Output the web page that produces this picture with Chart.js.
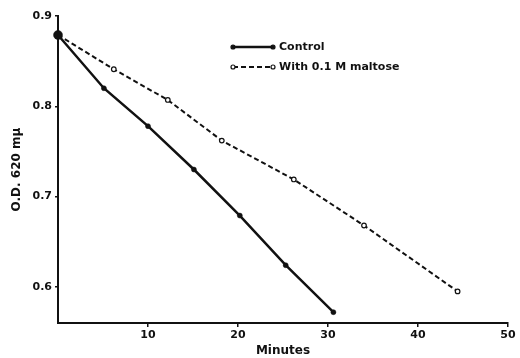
<!DOCTYPE html>
<html>
<head>
<meta charset="utf-8">
<script src="https://cdn.jsdelivr.net/npm/chart.js@4/dist/chart.umd.min.js"></script>
<style>
  html, body { margin: 0; padding: 0; background: #fff; }
  #wrap { width: 520px; height: 358px; }
</style>
</head>
<body>
<div id="wrap"><canvas id="odChart" width="520" height="358"></canvas></div>
<script>
// values
const controlMinutes = [0, 5.1, 10, 15.1, 20.2, 25.3, 30.6]
const controlOD = [0.879, 0.820, 0.778, 0.730, 0.679, 0.624, 0.572]
const maltoseMinutes = [0, 6.2, 12.2, 18.2, 26.2, 34, 44.4]
const maltoseOD = [0.879, 0.841, 0.807, 0.762, 0.719, 0.668, 0.595]
const xTicks = [10, 20, 30, 40, 50]
const yTicks = [0.6, 0.7, 0.8, 0.9]
const seriesNames = ["Control", "With 0.1 M maltose"]

const font = { family: "DejaVu Sans", size: 11, weight: "bold" }
const titleFont = { family: "DejaVu Sans", size: 12, weight: "bold" }

function toPoints(xs, ys) {
  return xs.map((x, i) => ({ x, y: ys[i] }))
}

// draws the little key inside the plot, like the original
const keyPlugin = {
  id: "key",
  afterDraw(chart) {
    const ctx = chart.ctx
    const rows = [{ y: 47, ds: chart.data.datasets[0] }, { y: 67, ds: chart.data.datasets[1] }]
    ctx.save()
    rows.forEach(r => {
      ctx.strokeStyle = "#111"
      ctx.lineWidth = r.ds.borderWidth
      ctx.setLineDash(r.ds.borderDash || [])
      ctx.beginPath()
      ctx.moveTo(233, r.y)
      ctx.lineTo(273, r.y)
      ctx.stroke()
      ctx.setLineDash([])
      ctx.lineWidth = 1.2
      ;[233, 273].forEach(px => {
        ctx.beginPath()
        ctx.arc(px, r.y, 2, 0, Math.PI * 2)
        ctx.fillStyle = r.ds.pointBackgroundColor
        ctx.fill()
        ctx.stroke()
      })
      ctx.fillStyle = "#111"
      ctx.font = "bold 11px 'DejaVu Sans'"
      ctx.textBaseline = "middle"
      ctx.fillText(r.ds.label, 279, r.y)
    })
    ctx.restore()
  }
}

new Chart(document.getElementById("odChart"), {
  type: "scatter",
  data: {
    datasets: [
      {
        label: seriesNames[0],
        data: toPoints(controlMinutes, controlOD),
        showLine: true,
        clip: false,
        order: 0,
        borderColor: "#111",
        borderWidth: 2.5,
        pointRadius: [4.5, 2.5, 2.5, 2.5, 2.5, 2.5, 2.5],
        pointBorderWidth: 0.5,
        pointBackgroundColor: "#111",
        pointBorderColor: "#111"
      },
      {
        label: seriesNames[1],
        data: toPoints(maltoseMinutes, maltoseOD),
        showLine: true,
        clip: false,
        order: 1,
        borderColor: "#111",
        borderWidth: 2,
        borderDash: [5, 3],
        pointRadius: [0, 2.3, 2.3, 2.3, 2.3, 2.3, 2.3],
        pointBorderWidth: 1.2,
        pointBackgroundColor: "#fff",
        pointBorderColor: "#111"
      }
    ]
  },
  options: {
    responsive: false,
    animation: false,
    layout: { padding: { top: 16, right: 12, left: 0, bottom: 0 } },
    plugins: { legend: { display: false }, tooltip: { enabled: false } },
    scales: {
      x: {
        type: "linear",
        min: 0,
        max: 50,
        afterBuildTicks: s => { s.ticks = xTicks.map(v => ({ value: v })) },
        afterFit: s => { s.height = 35 },
        grid: { drawOnChartArea: false, tickLength: 4, color: "#111", lineWidth: 1.5 },
        border: { color: "#111", width: 2 },
        ticks: { color: "#111", font, padding: 2, maxRotation: 0 },
        title: { display: true, text: "Minutes", color: "#111", font: titleFont, padding: { top: 2, bottom: 0 } }
      },
      y: {
        min: 0.56,
        max: 0.9,
        afterBuildTicks: s => { s.ticks = yTicks.map(v => ({ value: v })) },
        afterFit: s => { s.width = 58 },
        grid: { drawOnChartArea: false, tickLength: 3, color: "#111", lineWidth: 1.5 },
        border: { color: "#111", width: 2 },
        ticks: { color: "#111", font, padding: 3, callback: v => v.toFixed(1) },
        title: { display: true, text: "O.D. 620 mμ", color: "#111", font: titleFont, padding: { top: 10, bottom: 4 } }
      }
    }
  },
  plugins: [keyPlugin]
})
</script>
</body>
</html>
